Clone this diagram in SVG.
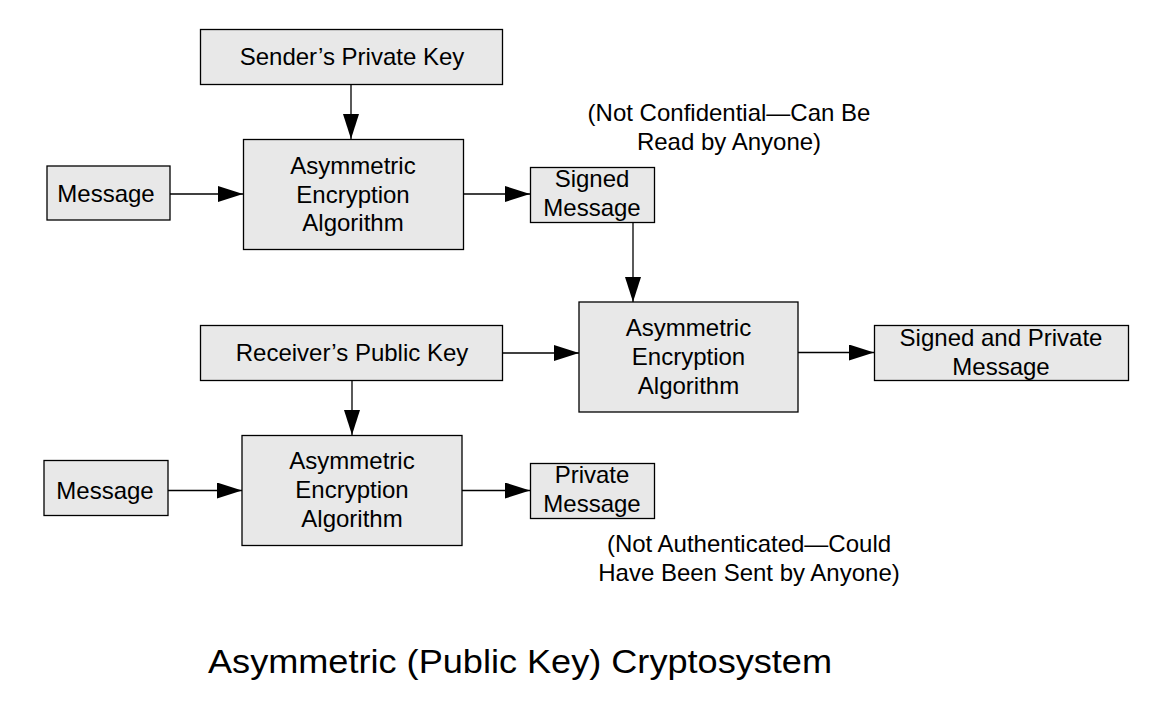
<svg xmlns="http://www.w3.org/2000/svg" width="1173" height="709" viewBox="0 0 1173 709">
<style>
.box{fill:#e8e8e8;stroke:#000;stroke-width:1.3}
.t{font-family:"Liberation Sans",Arial,sans-serif;font-size:24px;fill:#000;text-anchor:middle}
.c{stroke:#000;stroke-width:1.3;fill:none;marker-end:url(#ah)}
</style>
<defs>
<marker id="ah" markerUnits="userSpaceOnUse" markerWidth="25" markerHeight="16" refX="25" refY="8" orient="auto" viewBox="0 0 25 16">
<path d="M0,0 L25,8 L0,16 z" fill="#000"/>
</marker>
</defs>
<rect width="1173" height="709" fill="#fff"/>
<g id="connectors">
<line class="c" x1="351" y1="84" x2="351" y2="139"/>
<line class="c" x1="170" y1="194" x2="243" y2="194"/>
<line class="c" x1="463" y1="194" x2="530" y2="194"/>
<line class="c" x1="633" y1="222" x2="633" y2="302"/>
<line class="c" x1="502" y1="353" x2="579" y2="353"/>
<line class="c" x1="798" y1="352.5" x2="874" y2="352.5"/>
<line class="c" x1="352" y1="380" x2="352" y2="435"/>
<line class="c" x1="168" y1="490.5" x2="242" y2="490.5"/>
<line class="c" x1="462" y1="490.5" x2="530" y2="490.5"/>
</g>
<g id="sender-key">
<rect class="box" x="200.5" y="29.5" width="302" height="55"/>
<text class="t" x="352" y="65">Sender’s Private Key</text>
</g>
<g id="message1">
<rect class="box" x="47" y="166" width="123" height="54"/>
<text class="t" x="106" y="201.5">Message</text>
</g>
<g id="alg1">
<rect class="box" x="243.5" y="139.5" width="220" height="110"/>
<text class="t" x="353" y="173.5">Asymmetric</text>
<text class="t" x="353" y="202.5">Encryption</text>
<text class="t" x="353" y="231">Algorithm</text>
</g>
<g id="signed-message">
<rect class="box" x="530.5" y="167.5" width="124" height="55"/>
<text class="t" x="592" y="187">Signed</text>
<text class="t" x="592" y="216">Message</text>
</g>
<g id="note1">
<text class="t" x="729" y="120.5">(Not Confidential—Can Be</text>
<text class="t" x="729" y="149.5">Read by Anyone)</text>
</g>
<g id="alg2">
<rect class="box" x="579" y="302" width="219" height="110"/>
<text class="t" x="688.5" y="335.5">Asymmetric</text>
<text class="t" x="688.5" y="364.5">Encryption</text>
<text class="t" x="688.5" y="393.5">Algorithm</text>
</g>
<g id="signed-private">
<rect class="box" x="874.5" y="325.5" width="254" height="55"/>
<text class="t" x="1001" y="345.5">Signed and Private</text>
<text class="t" x="1001" y="374.5">Message</text>
</g>
<g id="receiver-key">
<rect class="box" x="200.5" y="325.5" width="302" height="55"/>
<text class="t" x="352" y="360.5">Receiver’s Public Key</text>
</g>
<g id="message2">
<rect class="box" x="44" y="460.5" width="124" height="55"/>
<text class="t" x="105" y="498.5">Message</text>
</g>
<g id="alg3">
<rect class="box" x="242" y="435.5" width="220" height="110"/>
<text class="t" x="352" y="469">Asymmetric</text>
<text class="t" x="352" y="498">Encryption</text>
<text class="t" x="352" y="527">Algorithm</text>
</g>
<g id="private-message">
<rect class="box" x="530.5" y="463.5" width="124" height="55"/>
<text class="t" x="592" y="483">Private</text>
<text class="t" x="592" y="511.5">Message</text>
</g>
<g id="note2">
<text class="t" x="749" y="552">(Not Authenticated—Could</text>
<text class="t" x="749" y="581">Have Been Sent by Anyone)</text>
</g>
<g id="title">
<text class="t" x="520" y="672.5" style="font-size:34px" textLength="624" lengthAdjust="spacingAndGlyphs">Asymmetric (Public Key) Cryptosystem</text>
</g>
</svg>
